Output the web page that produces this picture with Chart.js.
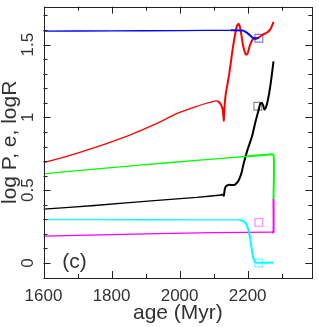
<!DOCTYPE html>
<html><head><meta charset="utf-8">
<script src="https://cdn.jsdelivr.net/npm/chart.js@4/dist/chart.umd.min.js"></script>
<style>html,body{margin:0;padding:0;background:#fff}#wrap{width:319px;height:327px;position:relative}</style>
</head><body><div id="wrap"><canvas id="c"></canvas></div>
<script>
// ---- data ----
const xTicks = [1600, 1800, 2000, 2200];
const yTicks = [0, 0.5, 1, 1.5];
const yTickLabels = ['0', '0.5', '1', '1.5'];

const agesBlue = [1600, 1800, 2000, 2150, 2185, 2194, 2204, 2213, 2221, 2227, 2232];
const valsBlue = [1.592, 1.594, 1.596, 1.598, 1.597, 1.587, 1.570, 1.550, 1.540, 1.541, 1.545];

const agesRed = [1600, 1650, 1700, 1763, 1850, 1935, 1993, 2050, 2080, 2103, 2113, 2122, 2127, 2130, 2132, 2135, 2140, 2146, 2151, 2156, 2161, 2168, 2173, 2177, 2180, 2186, 2192, 2196, 2200, 2206, 2212, 2218, 2226, 2234, 2242, 2252, 2261, 2268, 2276];
const valsRed = [0.690, 0.720, 0.755, 0.803, 0.875, 0.960, 1.027, 1.076, 1.097, 1.112, 1.110, 1.085, 1.050, 0.978, 1.070, 1.150, 1.220, 1.300, 1.385, 1.470, 1.543, 1.625, 1.643, 1.625, 1.590, 1.500, 1.445, 1.430, 1.440, 1.490, 1.525, 1.543, 1.545, 1.550, 1.565, 1.577, 1.590, 1.610, 1.655];

const agesGreen = [1600, 1750, 1900, 2050, 2200, 2250, 2276, 2276];
const valsGreen = [0.612, 0.645, 0.675, 0.705, 0.733, 0.742, 0.744, 0.440];

const agesBlack = [1600, 1750, 1935, 2050, 2122, 2128, 2130, 2133, 2138, 2146, 2155, 2162, 2170, 2176, 2182, 2189, 2200, 2213, 2223, 2232, 2237, 2242, 2246, 2249, 2252, 2257, 2262, 2266, 2271, 2276];
const valsBlack = [0.370, 0.395, 0.430, 0.450, 0.467, 0.470, 0.462, 0.510, 0.530, 0.538, 0.535, 0.537, 0.555, 0.580, 0.620, 0.690, 0.780, 0.870, 0.970, 1.049, 1.094, 1.099, 1.080, 1.055, 1.060, 1.094, 1.150, 1.206, 1.290, 1.385];

const agesCyan = [1600, 1900, 2175, 2185, 2194, 2200, 2205, 2209, 2212, 2215, 2218, 2221, 2226, 2240, 2276];
const valsCyan = [0.298, 0.297, 0.296, 0.290, 0.275, 0.245, 0.200, 0.145, 0.095, 0.052, 0.025, 0.008, 0.002, 0.002, 0.003];

const agesMagenta = [1600, 1935, 2100, 2271, 2276, 2276];
const valsMagenta = [0.184, 0.202, 0.208, 0.212, 0.212, 0.440];

const markAges = [2233, 2230, 2233, 2233];
const markVals = [1.543, 1.076, 0.279, 0.000];
const markColors = ['rgba(90,90,255,0.8)', 'rgba(110,110,110,0.8)', 'rgba(255,100,255,0.8)', 'rgba(90,240,255,0.8)'];

const panelLabel = '(c)';

// ---- build ----
const pts = (a, v) => a.map((x, i) => ({x, y: v[i]}));
const seg = {borderWidth: c => (c.p0.parsed.x < 2110 ? 1.3 : 2)};
const line = (a, v, col) => ({type: 'line', data: pts(a, v), borderColor: col, borderWidth: 2, pointRadius: 0, tension: 0.15, fill: false, segment: seg});

const FONT = "'Liberation Sans', Arial, sans-serif";
const TXT = '#333';

const frame = {
  id: 'frame',
  afterDraw(chart) {
    const {ctx, chartArea: a, scales: {x, y}} = chart;
    ctx.save();
    ctx.strokeStyle = '#222';
    ctx.lineWidth = 1;
    ctx.strokeRect(Math.round(a.left) + 0.5, Math.round(a.top) + 0.5, Math.round(a.right - a.left) - 1, Math.round(a.bottom - a.top));
    ctx.beginPath();
    for (let v = 1600; v <= x.max + 1e-6; v += 100) {
      const px = Math.round(x.getPixelForValue(v)) + 0.5;
      const L = (v % 200 === 0) ? 7 : 4;
      ctx.moveTo(px, a.bottom); ctx.lineTo(px, a.bottom - L);
      ctx.moveTo(px, a.top); ctx.lineTo(px, a.top + L);
    }
    for (let k = -1; k <= 17; k++) {
      const v = k / 10;
      const py = Math.round(y.getPixelForValue(v)) + 0.5;
      const L = (k % 5 === 0) ? 7 : 4;
      ctx.moveTo(a.left, py); ctx.lineTo(a.left + L, py);
      ctx.moveTo(a.right, py); ctx.lineTo(a.right - L, py);
    }
    ctx.stroke();
    // rotated y tick labels
    ctx.fillStyle = TXT;
    ctx.font = '17px ' + FONT;
    ctx.textAlign = 'center';
    ctx.textBaseline = 'middle';
    yTicks.forEach((v, i) => {
      ctx.save();
      ctx.translate(28, y.getPixelForValue(v));
      ctx.rotate(-Math.PI / 2);
      ctx.fillText(yTickLabels[i], 0, 0);
      ctx.restore();
    });
    // panel label
    ctx.font = '21px ' + FONT;
    ctx.textAlign = 'center';
    ctx.fillText(panelLabel, x.getPixelForValue(1691), y.getPixelForValue(0.005));
    ctx.restore();
  }
};

new Chart(document.getElementById('c'), {
  type: 'line',
  data: {
    datasets: [
      line(agesBlue, valsBlue, '#0000ff'),
      line(agesRed, valsRed, '#ff0000'),
      line(agesGreen, valsGreen, '#00ff00'),
      line(agesBlack, valsBlack, '#000000'),
      line(agesCyan, valsCyan, '#00ffff'),
      line(agesMagenta, valsMagenta, '#ff00ff'),
      {type: 'scatter', data: pts(markAges, markVals), pointStyle: 'rect', pointRadius: 5.5, pointBorderWidth: 1.2,
       pointBorderColor: markColors, pointBackgroundColor: 'rgba(0,0,0,0)', showLine: false}
    ]
  },
  options: {
    animation: false, responsive: true, maintainAspectRatio: false,
    layout: {padding: {top: 2, right: 1, left: 0, bottom: 0}},
    plugins: {legend: {display: false}, tooltip: {enabled: false}},
    scales: {
      x: {type: 'linear', min: 1600, max: 2390,
        afterBuildTicks: s => { s.ticks = xTicks.map(v => ({value: v})); },
        afterFit: s => { s.height = 49; },
        grid: {display: false, drawTicks: false}, border: {display: false},
        ticks: {padding: 8, color: TXT, font: {family: FONT, size: 17}, maxRotation: 0, callback: v => String(v)},
        title: {display: true, text: 'age (Myr)', color: TXT, font: {family: FONT, size: 21, lineHeight: 1}, padding: {top: 0, bottom: 3}}
      },
      y: {type: 'linear', min: -0.103, max: 1.76,
        afterBuildTicks: s => { s.ticks = yTicks.map(v => ({value: v})); },
        afterFit: s => { s.width = 43.5; },
        grid: {display: false, drawTicks: false}, border: {display: false},
        ticks: {display: false},
        title: {display: true, text: 'log P, e, logR', color: TXT, font: {family: FONT, size: 21, lineHeight: 1}, padding: {top: 0, bottom: 0}}
      }
    }
  },
  plugins: [frame]
});
</script></body></html>
